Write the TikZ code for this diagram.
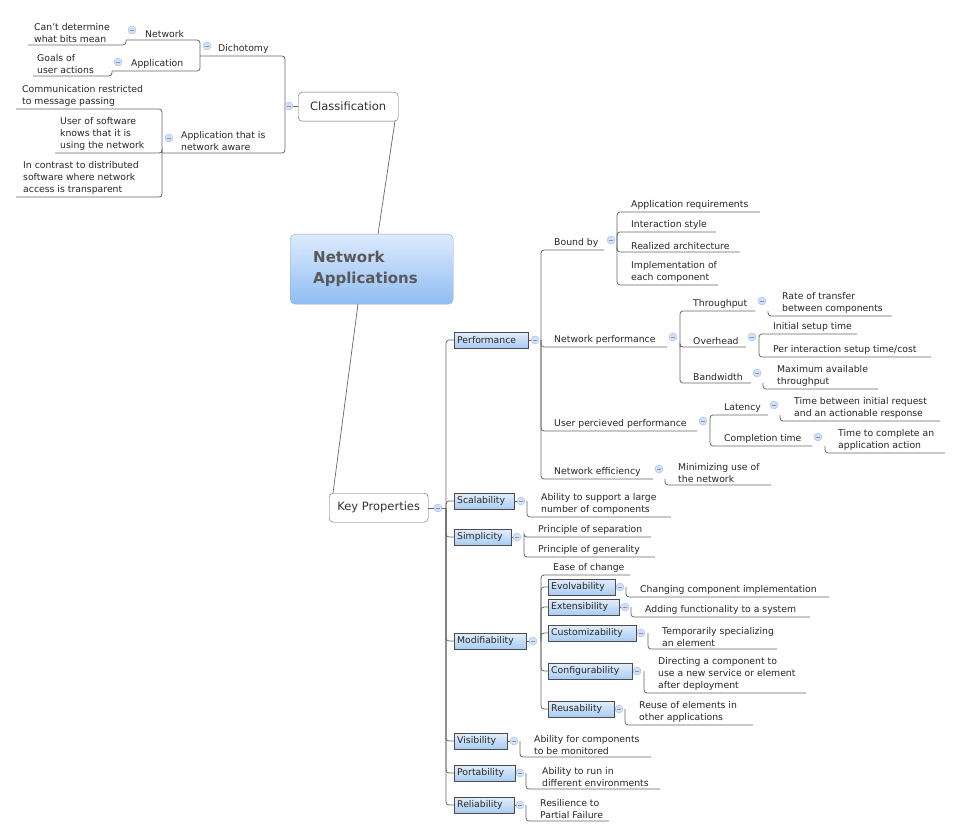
\documentclass[tikz,border=0pt]{standalone}
\usepackage{fontspec}
\setmainfont{DejaVu Sans}
\definecolor{btop}{HTML}{E3EEFC}
\definecolor{bbot}{HTML}{A9CBF4}
\definecolor{mtop}{HTML}{DDEBFD}
\definecolor{mbot}{HTML}{8FBDF2}
\definecolor{cfill}{HTML}{D3E1F6}
\definecolor{cdraw}{HTML}{9FBBE6}
\begin{document}
\begin{tikzpicture}[x=1pt,y=-1pt,
 ln/.style={draw=black!60,line width=0.8pt,rounded corners=3pt},
 txt/.style={inner sep=0pt,align=left,font=\fontsize{9.3}{12}\selectfont,text=black!85},
 circ/.style={circle,draw=cdraw,fill=cfill,minimum size=8pt,inner sep=0pt,
   path picture={\draw[cdraw!80!black,line width=0.5pt] ([xshift=-2pt]path picture bounding box.center)--([xshift=2pt]path picture bounding box.center);}},
 bbox/.style={draw=black!70,top color=btop,bottom color=bbot,inner xsep=3pt,inner ysep=0pt,minimum height=16pt,anchor=west,align=left,text width=#1-6pt,font=\fontsize{9.3}{12}\selectfont,text=black!85},
]
\newcommand{\lf}[4]{\node[txt,anchor=south west] (#1) at (#2,#3-2.5) {#4};}
\newcommand{\ul}[4]{\draw[ln] (#1,#2) |- (#3,#4);}
\newcommand{\cc}[3]{\node[circ] (#1) at (#2,#3) {};}
\newcommand{\bx}[6]{\draw[ln] (#2,#3) -- (#5,#3); \node[bbox=#4] (#1) at (#2,#3) {#6};}
\useasboundingbox (0,0) rectangle (961,837);
% main
\node[draw=cdraw!90!black,rounded corners=5pt,top color=mtop,bottom color=mbot,minimum width=163pt,minimum height=70pt,anchor=north west,inner sep=0pt] (main) at (290,234) {};
\node[anchor=west,align=left,inner sep=0pt,font=\bfseries\fontsize{15}{21}\selectfont,text=black!65] (mt) at (313,269) {Network\\Applications};
\node[draw=black!60,rounded corners=4pt,fill=white,minimum width=100pt,minimum height=29pt,anchor=north west,inner sep=0pt,font=\fontsize{11.5}{14}\selectfont,text=black!80] (cls) at (298,92) {Classification};
\node[draw=black!60,rounded corners=4pt,fill=white,minimum width=99pt,minimum height=29pt,anchor=north west,inner sep=0pt,font=\fontsize{11.5}{14}\selectfont,text=black!80] (kp) at (329,493) {Key Properties};
\draw[black!60,line width=0.7pt] (378,234) -- (395,121);
\draw[black!60,line width=0.7pt] (358,304) -- (333,493);
% classification side
\ul{285}{106}{200}{56}
\ul{285}{106}{162}{153}
\draw[ln] (289,106)--(298,106);
\cc{c0}{289}{106}
\lf{dich}{218}{56}{Dichotomy}\cc{c1}{207}{46}
\ul{200}{56}{126}{40}\ul{200}{56}{112}{71}
\lf{net}{145}{40}{Network}\cc{c2}{132}{30}
\lf{app}{131}{71}{Application}\cc{c3}{118}{62}
\ul{126}{40}{28}{45}\lf{cd}{34}{45}{Can't determine\\what bits mean}
\ul{112}{71}{33}{76}\lf{go}{37}{76}{Goals of\\user actions}
\lf{naw}{181}{153}{Application that is\\network aware}\cc{c4}{169}{138}
\ul{162}{153}{16}{109}\ul{162}{153}{55}{153}\ul{162}{153}{16}{197}
\lf{cr}{22}{109}{Communication restricted\\to message passing}
\lf{us}{60}{153}{User of software\\knows that it is\\using the network}
\lf{ic}{23}{197}{In contrast to distributed\\software where network\\access is transparent}
% key properties
\draw[ln] (428,508)--(446,508);
\cc{k0}{438}{508}
\foreach \yy in {340,501,537,641,741,773,805} {\draw[ln] (446,508) |- (454,\yy);}
\bx{perf}{454}{340}{74pt}{535}{Performance}\cc{k1}{535}{340}
\bx{scal}{454}{501}{60pt}{521}{Scalability}\cc{k2}{521}{501}
\bx{simp}{454}{537}{57pt}{517}{Simplicity}\cc{k3}{517}{537}
\bx{mod}{454}{641}{72pt}{533}{Modifiability}\cc{k4}{533}{641}
\bx{vis}{454}{741}{53pt}{514}{Visibility}\cc{k5}{514}{741}
\bx{port}{454}{773}{61pt}{520}{Portability}\cc{k6}{520}{773}
\bx{rel}{454}{805}{60pt}{520}{Reliability}\cc{k7}{520}{805}
% performance
\ul{541}{340}{604}{250}\ul{541}{340}{667}{347}\ul{541}{340}{697}{431}\ul{541}{340}{653}{479}
\lf{bb}{554}{250}{Bound by}\cc{p1}{611}{240}
\ul{617}{250}{760}{212}\ul{617}{250}{716}{232}\ul{617}{250}{740}{252}\ul{617}{250}{718}{285}
\lf{b1}{631}{212}{Application requirements}
\lf{b2}{631}{232}{Interaction style}
\lf{b3}{631}{252}{Realized architecture}
\lf{b4}{631}{285}{Implementation of\\each component}
\lf{np}{554}{347}{Network performance}\cc{p2}{673}{337}
\ul{680}{347}{755}{311}\ul{680}{347}{746}{347}\ul{680}{347}{751}{383}
\lf{tp}{693}{311}{Throughput}\cc{p3}{762}{301}
\ul{768}{311}{892}{316}\lf{rt}{782}{316}{Rate of transfer\\between components}
\lf{oh}{693}{347}{Overhead}\cc{p4}{752}{337}
\ul{759}{347}{857}{334}\ul{759}{347}{931}{357}
\lf{is}{773}{334}{Initial setup time}
\lf{pi}{773}{357}{Per interaction setup time/cost}
\lf{bw}{693}{383}{Bandwidth}\cc{p5}{757}{373}
\ul{763}{383}{878}{389}\lf{ma}{777}{389}{Maximum available\\throughput}
\lf{up}{554}{431}{User percieved performance}\cc{p6}{703}{421}
\ul{710}{431}{768}{415}\ul{710}{431}{812}{446}
\lf{la}{724}{415}{Latency}\cc{p7}{774}{405}
\ul{780}{415}{940}{421}\lf{tb}{794}{421}{Time between initial request\\and an actionable response}
\lf{ct}{724}{446}{Completion time}\cc{p8}{818}{437}
\ul{825}{446}{945}{453}\lf{tc}{838}{453}{Time to complete an\\application action}
\lf{ne}{554}{479}{Network efficiency}\cc{p9}{659}{469}
\ul{665}{479}{771}{485}\lf{mu}{678}{485}{Minimizing use of\\the network}
% scalability
\ul{527}{501}{671}{517}\lf{as}{541}{517}{Ability to support a large\\number of components}
% simplicity
\ul{524}{537}{651}{537}\ul{524}{537}{655}{557}
\lf{ps}{538}{537}{Principle of separation}
\lf{pg}{538}{557}{Principle of generality}
% modifiability
\foreach \yy in {587,607,633,671,709} {\draw[ln] (541,641) |- (548,\yy);}
\ul{541}{641}{630}{575}\lf{ec}{553}{575}{Ease of change}
\bx{evo}{548}{587}{67pt}{620}{Evolvability}\cc{m1}{620}{587}
\bx{ext}{548}{607}{71pt}{625}{Extensibility}\cc{m2}{625}{607}
\bx{cus}{548}{633}{88pt}{641}{Customizability}\cc{m3}{641}{633}
\bx{con}{548}{671}{84pt}{637}{Configurability}\cc{m4}{637}{671}
\bx{reu}{548}{709}{66pt}{619}{Reusability}\cc{m5}{619}{709}
\ul{626}{587}{829}{597}\lf{cc1}{640}{597}{Changing component implementation}
\ul{631}{607}{810}{617}\lf{af}{645}{617}{Adding functionality to a system}
\ul{648}{633}{777}{649}\lf{ts}{662}{649}{Temporarily specializing\\an element}
\ul{644}{671}{806}{693}\lf{dc}{658}{693}{Directing a component to\\use a new service or element\\after deployment}
\ul{625}{709}{753}{725}\lf{ro}{639}{725}{Reuse of elements in\\other applications}
% others
\ul{520}{741}{651}{757}\lf{af2}{534}{757}{Ability for components\\to be monitored}
\ul{526}{773}{660}{789}\lf{ar}{542}{789}{Ability to run in\\different environments}
\ul{526}{805}{609}{821}\lf{rp}{540}{821}{Resilience to\\Partial Failure}
\end{tikzpicture}
\end{document}
